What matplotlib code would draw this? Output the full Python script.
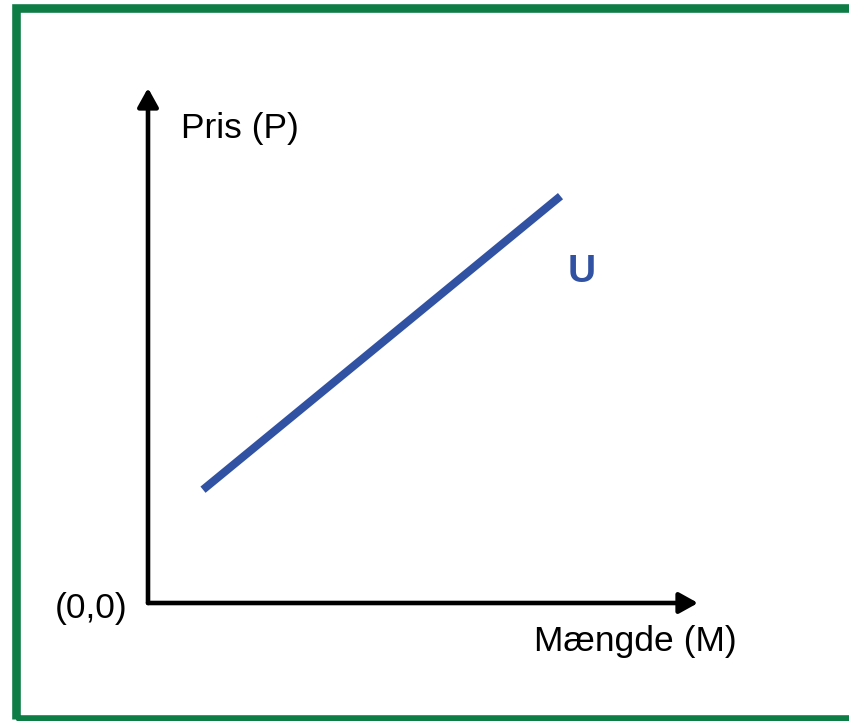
import matplotlib.pyplot as plt
from matplotlib.patches import Rectangle

blue_line = '#3152A3'
green_frame = '#0E7D45'

# supply curve U (quantity M, price P)
supply_m = [1.0, 7.5]
supply_p = [2.2, 7.9]

x_label = 'Mængde (M)'
y_label = 'Pris (P)'
origin_label = '(0,0)'
curve_label = 'U'

fig = plt.figure(figsize=(8.49, 7.21), dpi=100)
ax = fig.add_axes([148 / 849, 118 / 721, 550 / 849, 515 / 721])
ax.set_xlim(0, 10)
ax.set_ylim(0, 10)
ax.axis('off')

#* axes as arrows
arrow_kw = dict(arrowstyle='-|>,head_length=0.45,head_width=0.25', color='black',
                lw=3.3, mutation_scale=25, shrinkA=0, shrinkB=0)
ax.annotate('', xy=(10, 0), xytext=(0, 0), arrowprops=arrow_kw, annotation_clip=False)
ax.annotate('', xy=(0, 10), xytext=(0, 0), arrowprops=arrow_kw, annotation_clip=False)

#* supply line
ax.plot(supply_m, supply_p, color=blue_line, lw=5.8, solid_capstyle='butt', clip_on=False)

font = 'Liberation Sans'
ax.text(-0.38, -0.1, origin_label, ha='right', va='center', fontsize=25.5, family=font)
ax.text(1.67, 9.22, y_label, ha='center', va='center', fontsize=25.5, family=font)
ax.text(8.87, -0.74, x_label, ha='center', va='center', fontsize=25.5, family=font)
ax.text(7.89, 6.43, curve_label, ha='center', va='center', fontsize=28,
        fontweight='bold', color=blue_line, family=font)

#* green frame round the figure
frame = Rectangle((16 / 849, 2 / 721), 0.99, (719 - 8.5) / 721 + 0.001,
                  transform=fig.transFigure, fill=False, lw=6.2,
                  edgecolor=green_frame, clip_on=False)
fig.patches.append(frame)

fig.savefig('out.png', dpi=100)
